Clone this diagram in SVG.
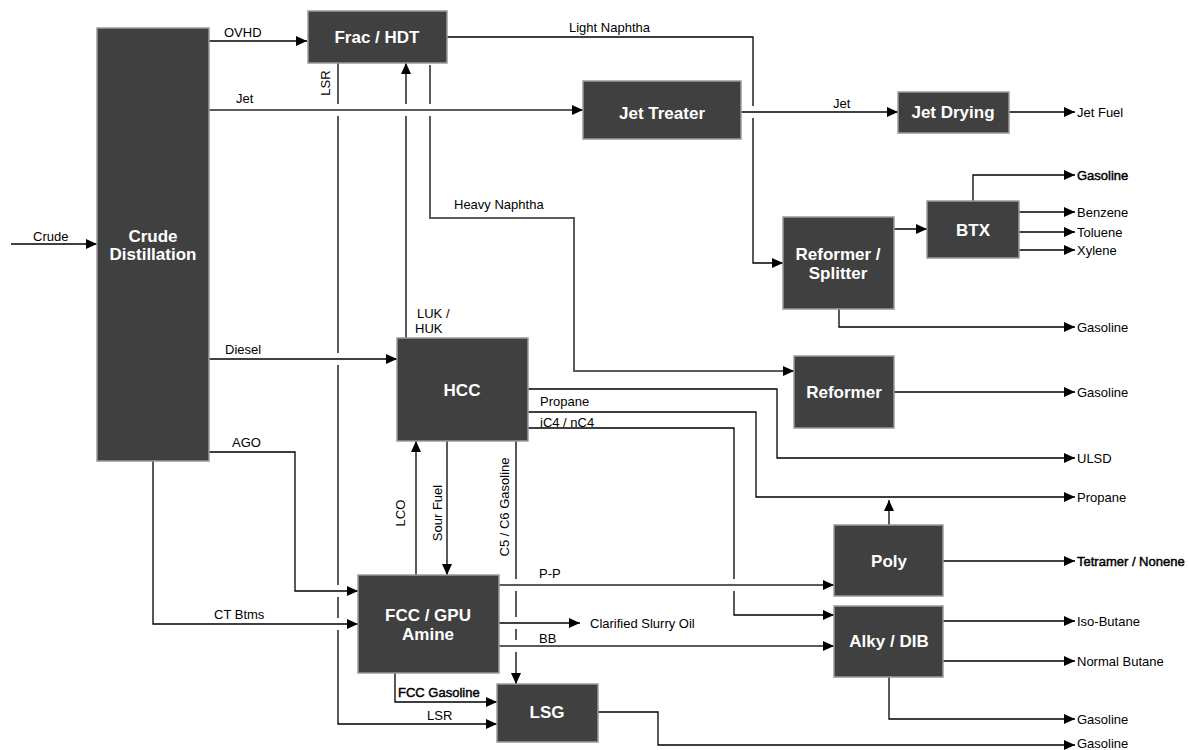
<svg xmlns="http://www.w3.org/2000/svg" width="1189" height="750" viewBox="0 0 1189 750">
<style>
.box{fill:#404040;stroke:#9a9a9a;stroke-width:1.5}
.bt{fill:#fff;font-family:"Liberation Sans",Arial,sans-serif;font-weight:bold;font-size:17px;text-anchor:middle}
.lb{fill:#000;font-family:"Liberation Sans",Arial,sans-serif;font-size:13px}
.lbb{fill:#000;stroke:#000;stroke-width:0.45;font-family:"Liberation Sans",Arial,sans-serif;font-size:13px}
.k{fill:none;stroke:#000;stroke-width:1.3}
.g{fill:none;stroke:#5a5a5a;stroke-width:2}
.a{marker-end:url(#ah)}
</style>
<defs>
<marker id="ah" markerUnits="userSpaceOnUse" markerWidth="11" markerHeight="10" refX="11" refY="5" orient="auto">
<path d="M0,0 L11,5 L0,10 z" fill="#000"/>
</marker>
</defs>
<rect width="1189" height="750" fill="#fff"/>
<g id="connectors">
<path class="k a" d="M11,244 H97"/>
<path class="k a" d="M209,41 H307"/>
<path class="g a" d="M209,110 H583"/>
<path class="k a" d="M338,63 V104 M338,116 V353 M338,365 V585 M338,597 V618 M338,630 V724 H497"/>
<path class="k a" d="M406,338 V116 M406,104 V63"/>
<path class="g a" d="M430,65 V104 M430,116 V218 H574 V371 H794"/>
<path class="k a" d="M447,37 H753 V106 M753,118 V263 H783"/>
<path class="k a" d="M741,112 H898"/>
<path class="k a" d="M1009,112 H1075"/>
<path class="k a" d="M894,229 H927"/>
<path class="k a" d="M973,201 V175 H1075"/>
<path class="k a" d="M1019,212 H1075"/>
<path class="k a" d="M1019,232 H1075"/>
<path class="k a" d="M1019,250 H1075"/>
<path class="k a" d="M839,309 V327 H1075"/>
<path class="k a" d="M209,359 H397"/>
<path class="k a" d="M894,392 H1075"/>
<path class="k a" d="M528,389 H777 V458 H1075"/>
<path class="k a" d="M528,412 H756 V497 H1075"/>
<path class="k a" d="M528,428 H734 V579 M734,591 V615 H834"/>
<path class="g a" d="M889,525 V500"/>
<path class="k a" d="M943,561 H1075"/>
<path class="k a" d="M209,452 H295 V591 H358"/>
<path class="k a" d="M153,461 V624 H358"/>
<path class="g a" d="M416,575 V441"/>
<path class="g a" d="M447,441 V575"/>
<path class="k a" d="M516,441 V579 M516,591 V617 M516,629 V640 M516,652 V684"/>
<path class="g a" d="M499,585 H834"/>
<path class="k a" d="M499,623 H580"/>
<path class="g a" d="M499,646 H834"/>
<path class="k a" d="M943,621 H1075"/>
<path class="k a" d="M943,661 H1075"/>
<path class="k a" d="M889,677 V719 H1075"/>
<path class="k a" d="M395,673 V702 H497"/>
<path class="k a" d="M598,712 H658 V745 H1075"/>
</g>
<g id="labels">
<text class="lb" x="33" y="241">Crude</text>
<text class="lb" x="224" y="37">OVHD</text>
<text class="lb" x="236" y="103">Jet</text>
<text class="lb" x="330" y="83" text-anchor="middle" transform="rotate(-90 330 83)">LSR</text>
<text class="lb" x="569" y="32">Light Naphtha</text>
<text class="lb" x="833" y="108">Jet</text>
<text class="lb" x="1077" y="117">Jet Fuel</text>
<text class="lbb" x="1077" y="180">Gasoline</text>
<text class="lb" x="1077" y="217">Benzene</text>
<text class="lb" x="1077" y="237">Toluene</text>
<text class="lb" x="1077" y="255">Xylene</text>
<text class="lb" x="1077" y="332">Gasoline</text>
<text class="lb" x="454" y="209">Heavy Naphtha</text>
<text class="lb" x="417" y="318">LUK /</text>
<text class="lb" x="415" y="333">HUK</text>
<text class="lb" x="225" y="354">Diesel</text>
<text class="lb" x="1077" y="397">Gasoline</text>
<text class="lb" x="540" y="406">Propane</text>
<text class="lb" x="540" y="427">iC4 / nC4</text>
<text class="lb" x="232" y="447">AGO</text>
<text class="lb" x="1077" y="463">ULSD</text>
<text class="lb" x="1077" y="502">Propane</text>
<text class="lb" x="405" y="513" text-anchor="middle" transform="rotate(-90 405 513)">LCO</text>
<text class="lb" x="442" y="513" text-anchor="middle" transform="rotate(-90 442 513)">Sour Fuel</text>
<text class="lb" x="509" y="507" text-anchor="middle" transform="rotate(-90 509 507)">C5 / C6 Gasoline</text>
<text class="lbb" x="1077" y="566">Tetramer / Nonene</text>
<text class="lb" x="539" y="578">P-P</text>
<text class="lb" x="214" y="619">CT Btms</text>
<text class="lb" x="1077" y="626">Iso-Butane</text>
<text class="lb" x="590" y="628">Clarified Slurry Oil</text>
<text class="lb" x="539" y="643">BB</text>
<text class="lb" x="1077" y="666">Normal Butane</text>
<text class="lbb" x="398" y="697">FCC Gasoline</text>
<text class="lb" x="427" y="720">LSR</text>
<text class="lb" x="1077" y="724">Gasoline</text>
<text class="lb" x="1077" y="748">Gasoline</text>
</g>
<g id="crude"><rect class="box" x="97" y="28" width="112" height="433"/><text class="bt" x="153" y="242">Crude</text><text class="bt" x="153" y="260">Distillation</text></g>
<g id="frac"><rect class="box" x="308" y="11" width="139" height="52"/><text class="bt" x="377" y="43">Frac / HDT</text></g>
<g id="jettreater"><rect class="box" x="583" y="81" width="158" height="58"/><text class="bt" x="662" y="119">Jet Treater</text></g>
<g id="jetdrying"><rect class="box" x="898" y="92" width="111" height="41"/><text class="bt" x="953" y="118">Jet Drying</text></g>
<g id="refsplit"><rect class="box" x="783" y="217" width="111" height="92"/><text class="bt" x="838" y="260">Reformer /</text><text class="bt" x="838" y="279">Splitter</text></g>
<g id="btx"><rect class="box" x="927" y="201" width="92" height="57"/><text class="bt" x="973" y="236">BTX</text></g>
<g id="hcc"><rect class="box" x="397" y="338" width="131" height="103"/><text class="bt" x="462" y="396">HCC</text></g>
<g id="reformer"><rect class="box" x="794" y="356" width="100" height="72"/><text class="bt" x="844" y="398">Reformer</text></g>
<g id="poly"><rect class="box" x="834" y="525" width="109" height="71"/><text class="bt" x="889" y="567">Poly</text></g>
<g id="alky"><rect class="box" x="834" y="606" width="109" height="71"/><text class="bt" x="889" y="647">Alky / DIB</text></g>
<g id="fcc"><rect class="box" x="358" y="575" width="141" height="98"/><text class="bt" x="428" y="621">FCC / GPU</text><text class="bt" x="428" y="640">Amine</text></g>
<g id="lsg"><rect class="box" x="497" y="684" width="101" height="58"/><text class="bt" x="547" y="718">LSG</text></g>
</svg>
